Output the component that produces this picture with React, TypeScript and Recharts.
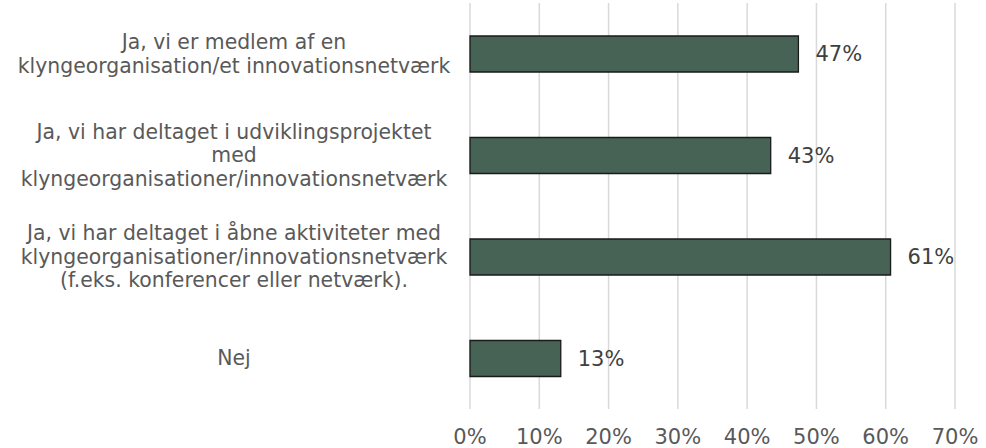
import React from "react";
import { BarChart, Bar, XAxis, YAxis, CartesianGrid, LabelList } from "recharts";

const categories: string[] = [
  "Ja, vi er medlem af en\nklyngeorganisation/et innovationsnetværk",
  "Ja, vi har deltaget i udviklingsprojektet\nmed\nklyngeorganisationer/innovationsnetværk",
  "Ja, vi har deltaget i åbne aktiviteter med\nklyngeorganisationer/innovationsnetværk\n(f.eks. konferencer eller netværk).",
  "Nej",
];
const values: number[] = [47.4, 43.4, 60.7, 13.1];
const xTicks: number[] = [0, 10, 20, 30, 40, 50, 60, 70];

const data = categories.map((c, i) => ({ name: c, value: values[i] }));

const FONT = "Verdana, 'DejaVu Sans', sans-serif";

const CategoryTick = (props: any) => {
  const { y, payload } = props;
  const lines: string[] = String(payload.value).split("\n");
  const lh = 23.5;
  const start = y - ((lines.length - 1) * lh) / 2;
  return (
    <g>
      {lines.map((l, i) => (
        <text
          key={i}
          x={234}
          y={start + i * lh}
          dy="0.35em"
          textAnchor="middle"
          fill="#595959"
          fontSize={20.4}
          fontFamily={FONT}
        >
          {l}
        </text>
      ))}
    </g>
  );
};

export default function App() {
  return (
    <div style={{ position: "absolute", left: 0, top: 0, width: 986, height: 448, background: "#fff" }}>
      <BarChart
        width={986}
        height={448}
        data={data}
        layout="vertical"
        margin={{ top: 3, right: 31, bottom: 0, left: 0 }}
        barSize={36}
      >
        <CartesianGrid horizontal={false} vertical={true} stroke="#d9d9d9" strokeWidth={1.5} />
        <XAxis
          type="number"
          domain={[0, 70]}
          ticks={xTicks}
          tickFormatter={(v: number) => `${v}%`}
          axisLine={false}
          tickLine={false}
          height={39}
          tickMargin={14}
          tick={{ fill: "#595959", fontSize: 21, fontFamily: FONT }}
        />
        <YAxis
          type="category"
          dataKey="name"
          width={470}
          axisLine={false}
          tickLine={false}
          tick={<CategoryTick />}
          interval={0}
        />
        <Bar dataKey="value" fill="#476356" stroke="#1a1a1a" strokeWidth={1.3} isAnimationActive={false}>
          <LabelList
            dataKey="value"
            position="right"
            offset={17}
            formatter={(v: number) => `${Math.round(v)}%`}
            fill="#404040"
            fontSize={21}
            fontFamily={FONT}
          />
        </Bar>
      </BarChart>
    </div>
  );
}
